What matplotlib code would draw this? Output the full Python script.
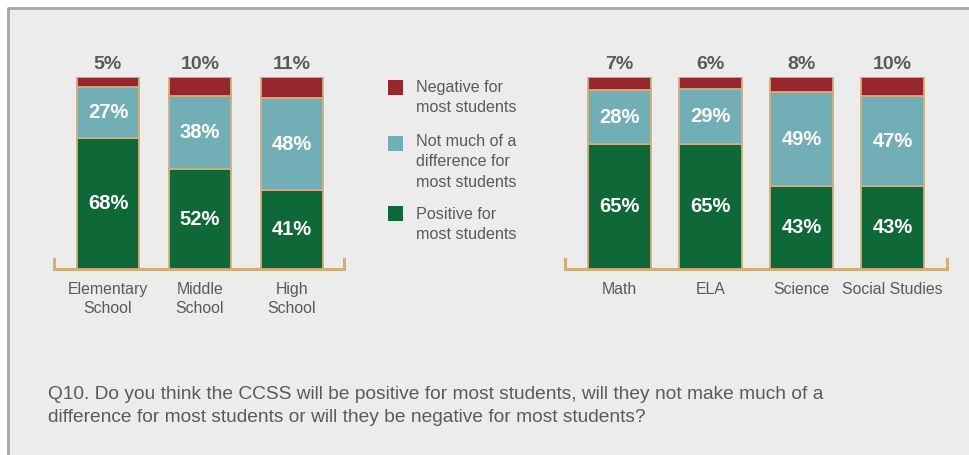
import matplotlib
matplotlib.use("Agg")
import matplotlib.pyplot as plt
from matplotlib.patches import Rectangle
from matplotlib.lines import Line2D

plt.rcParams['font.family'] = ['Liberation Sans', 'DejaVu Sans']

# Survey results (percent of respondents)
levels = ["Elementary\nSchool", "Middle\nSchool", "High\nSchool"]
level_positive = [68, 52, 41]
level_neutral = [27, 38, 48]
level_negative = [5, 10, 11]

subjects = ["Math", "ELA", "Science", "Social Studies"]
subject_positive = [65, 65, 43, 43]
subject_neutral = [28, 29, 49, 47]
subject_negative = [7, 6, 8, 10]

legend_labels = ["Negative for\nmost students",
                 "Not much of a\ndifference for\nmost students",
                 "Positive for\nmost students"]
question = ("Q10. Do you think the CCSS will be positive for most students, will they not make much of a\n"
            "difference for most students or will they be negative for most students?")

RED = "#97272F"
TEAL = "#71AEB5"
GREEN = "#0E6837"
TAN = "#D3AE7D"
GREY_TXT = "#5A5A5A"
BG = "#ECECEC"

W, H = 969, 455
fig = plt.figure(figsize=(W / 100, H / 100), dpi=100)
fig.patch.set_facecolor("white")


def px(x, y):
    """Pixel (from top-left) to figure fraction."""
    return x / W, 1 - y / H


# panel background and border
fig.add_artist(Rectangle((8 / W, 0), 1, 1 - 8 / H, transform=fig.transFigure,
                         facecolor=BG, edgecolor="none", zorder=0))
fig.add_artist(Line2D([8 / W, 8 / W, 1], [0, 1 - 8 / H, 1 - 8 / H], transform=fig.transFigure,
                      color="#A6A6A6", lw=2.0, zorder=1, solid_capstyle="butt"))


def panel(left_px, right_px, center0, spacing, width, cats, pos, neu, neg):
    base_px, top_px = 269, 77
    l, b = px(left_px, base_px)
    ax = fig.add_axes([l, b, (right_px - left_px) / W, (base_px - top_px) / H])
    ax.set_facecolor("none")
    n = len(cats)
    x = list(range(n))
    ax.set_xlim((left_px - center0) / spacing, (right_px - center0) / spacing)
    ax.set_ylim(0, 100)
    bottoms2 = [p + q for p, q in zip(pos, neu)]
    kw = dict(width=width, edgecolor=TAN, linewidth=1.3, zorder=3)
    ax.bar(x, pos, color=GREEN, **kw)
    ax.bar(x, neu, bottom=pos, color=TEAL, **kw)
    ax.bar(x, neg, bottom=bottoms2, color=RED, **kw)
    for i in x:
        ax.text(i, pos[i] / 2, f"{pos[i]}%", ha="center", va="center",
                color="white", fontsize=14.5, fontweight="bold", zorder=4)
        ax.text(i, pos[i] + neu[i] / 2, f"{neu[i]}%", ha="center", va="center",
                color="white", fontsize=14.5, fontweight="bold", zorder=4)
        ax.text(i, 100 + 6.5, f"{neg[i]}%", ha="center", va="center",
                color=GREY_TXT, fontsize=14, fontweight="bold", clip_on=False)
        ax.text(i, -6.8, cats[i], ha="center", va="top", color=GREY_TXT,
                fontsize=11.4, linespacing=1.36, clip_on=False)
    tick = 10 / (base_px - top_px)
    ax.plot([0, 0, 1, 1], [tick, 0, 0, tick], transform=ax.transAxes,
            color=TAN, lw=2.2, clip_on=False, zorder=2, solid_joinstyle="miter")
    ax.axis("off")
    return ax


panel(54, 344, 108, 92, 0.68, levels, level_positive, level_neutral, level_negative)
panel(565, 947, 619.5, 91, 0.69, subjects, subject_positive, subject_neutral, subject_negative)

# legend
legend_colors = [RED, TEAL, GREEN]
legend_y = [80, 136, 206]
legend_text_top = [80, 134, 207]
for c, y0, ty0, lab in zip(legend_colors, legend_y, legend_text_top, legend_labels):
    x0, y1 = px(388, y0 + 15)
    fig.add_artist(Rectangle((x0, y1), 15 / W, 15 / H, transform=fig.transFigure,
                             facecolor=c, edgecolor="none"))
    tx, ty = px(416, ty0)
    fig.text(tx, ty, lab, ha="left", va="top", color=GREY_TXT, fontsize=11.6,
             linespacing=1.44)

qx, qy = px(48, 386)
fig.text(qx, qy, question, ha="left", va="top", color=GREY_TXT, fontsize=13.8,
         linespacing=1.43)

fig.savefig("out.png", dpi=100, facecolor=fig.get_facecolor())
